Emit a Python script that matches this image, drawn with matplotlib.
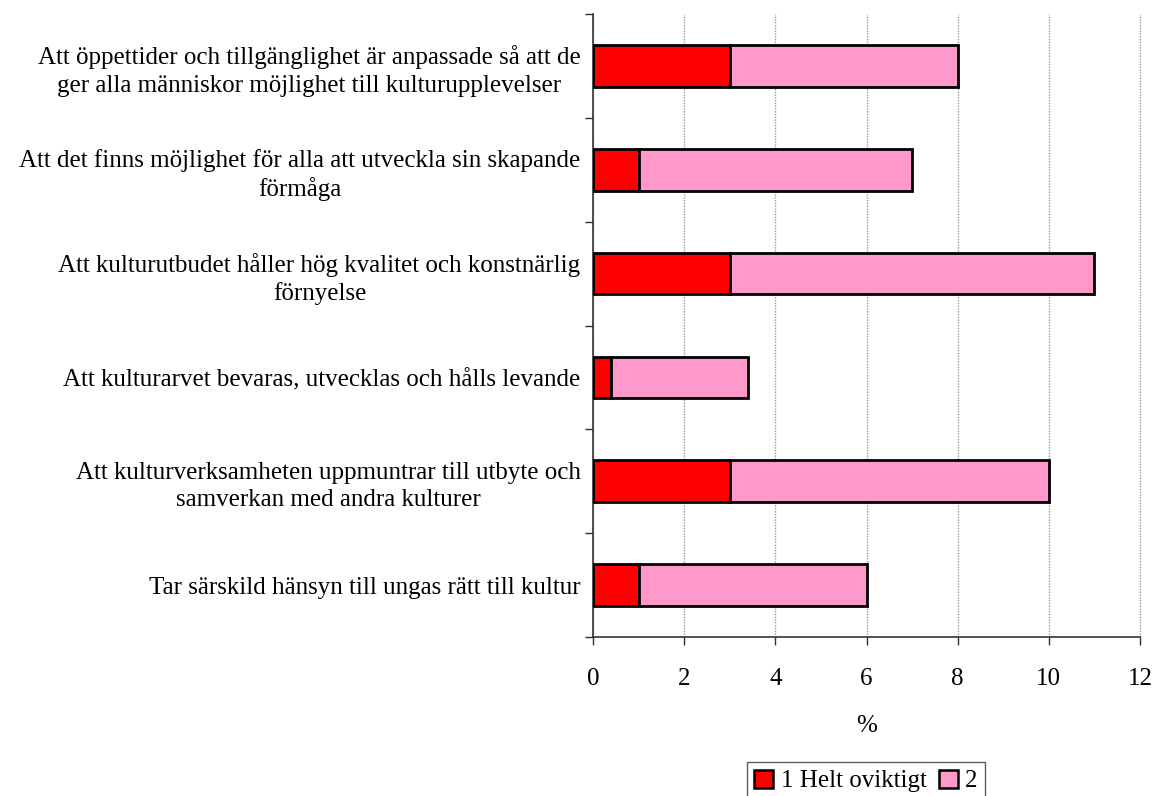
import matplotlib
matplotlib.use("Agg")
import matplotlib.pyplot as plt
import numpy as np

categories = [
    "Att öppettider och tillgänglighet är anpassade så att de\nger alla människor möjlighet till kulturupplevelser",
    "Att det finns möjlighet för alla att utveckla sin skapande\nförmåga",
    "Att kulturutbudet håller hög kvalitet och konstnärlig\nförnyelse",
    "Att kulturarvet bevaras, utvecklas och hålls levande",
    "Att kulturverksamheten uppmuntrar till utbyte och\nsamverkan med andra kulturer",
    "Tar särskild hänsyn till ungas rätt till kultur",
]
series_names = ["1 Helt oviktigt", "2"]
helt_oviktigt = [3, 1, 3, 0.4, 3, 1]
two = [5, 6, 8, 3.0, 7, 5]
xticks = [0, 2, 4, 6, 8, 10, 12]

plt.rcParams['font.family'] = ['Liberation Serif', 'DejaVu Serif']

fig = plt.figure(figsize=(11.53, 7.96), dpi=100)
ax = fig.add_axes([593/1153, 1-637/796, (1140-593)/1153, (637-14)/796])

y = np.arange(len(categories))
h = 0.40
ax.barh(y, helt_oviktigt, height=h, color='#FF0000', edgecolor='black', linewidth=2,
        label=series_names[0], zorder=3)
ax.barh(y, two, left=helt_oviktigt, height=h, color='#FF99CC', edgecolor='black',
        linewidth=2, label=series_names[1], zorder=3)

ax.set_ylim(len(categories)-0.5, -0.5)
ax.set_xlim(0, 12)
ax.set_xticks(xticks)
ax.set_xticklabels([str(t) for t in xticks], fontsize=18)
ax.set_yticks(y)
ax.set_yticklabels(categories, fontsize=18, multialignment='center', linespacing=1.3)
ax.tick_params(axis='y', length=0, pad=15)
ax.set_yticks(np.arange(len(categories)+1)-0.5, minor=True)
ax.tick_params(axis='y', which='minor', length=6, width=1, direction='out', color='#333333')
ax.tick_params(axis='x', length=6, width=1, direction='out', pad=16, color='#333333')
ax.grid(axis='x', color='#999999', linewidth=1.0, linestyle=(0, (1, 1)), zorder=0)
for gl in ax.get_xgridlines():
    gl.set_clip_on(False)
for s in ['top', 'right']:
    ax.spines[s].set_visible(False)
ax.spines['left'].set_linewidth(1.2)
ax.spines['bottom'].set_linewidth(1.2)
ax.spines['left'].set_color('#333333')
ax.spines['bottom'].set_color('#333333')
ax.set_xlabel('%', fontsize=18, labelpad=18)
for lbl in ax.get_yticklabels():
    lbl.set_x(lbl.get_position()[0])
ax.yaxis.set_tick_params(pad=9)

leg = fig.legend(loc='upper center', bbox_to_anchor=(866/1153, 1-762/796), ncol=2,
                 fontsize=18, frameon=True, fancybox=False, edgecolor='#333333',
                 handlelength=0.75, handleheight=0.75, handletextpad=0.3,
                 columnspacing=0.5, borderpad=0.3, borderaxespad=0)
leg.get_frame().set_linewidth(1.0)
for p in leg.get_patches():
    p.set_linewidth(1.8)

fig.savefig('out.png', dpi=100)
